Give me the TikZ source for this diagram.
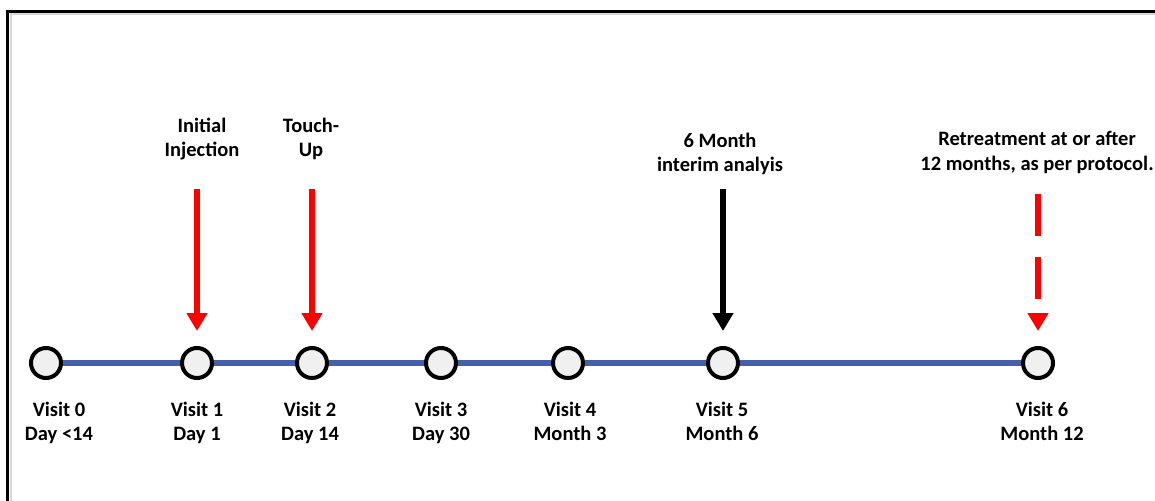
\documentclass[tikz,border=0pt]{standalone}
\usepackage{fontspec}
\setmainfont{Carlito}
\usetikzlibrary{arrows.meta}
\definecolor{tlblue}{RGB}{70,95,170}
\definecolor{dotfill}{RGB}{240,240,240}
\definecolor{shadowgray}{RGB}{215,215,215}
\begin{document}
\begin{tikzpicture}[x=1pt,y=-1pt,
  visit/.style={circle,draw=black,line width=4pt,fill=dotfill,minimum size=30pt,inner sep=0pt},
  lbl/.style={font=\fontsize{20.5}{24.5}\selectfont\bfseries,align=center,inner sep=0pt,anchor=base},
  tl/.style={draw=tlblue,line width=5.5pt},
  arr/.style={line width=5.5pt,-{Triangle[width=20pt,length=18pt]},shorten >=15pt},
  framebox/.style={draw=black,line width=2.5pt},
  frameshadow/.style={draw=shadowgray,line width=2pt}
]
\useasboundingbox (0,0) rectangle (1155,500);
\clip (0,0) rectangle (1155,500);
% frame
\draw[frameshadow] (10.5,520) -- (10.5,14.5) -- (1170,14.5);
\draw[framebox] (7.5,520) -- (7.5,11.5) -- (1170,11.5);
% visits
\node[visit] (v0) at (46,363) {};
\node[visit] (v1) at (197,363) {};
\node[visit] (v2) at (312,363) {};
\node[visit] (v3) at (441,363) {};
\node[visit] (v4) at (568,363) {};
\node[visit] (v5) at (723,363) {};
\node[visit] (v6) at (1038,363) {};
\draw[tl] (v0) -- (v1);
\draw[tl] (v1) -- (v2);
\draw[tl] (v2) -- (v3);
\draw[tl] (v3) -- (v4);
\draw[tl] (v4) -- (v5);
\draw[tl] (v5) -- (v6);
% bottom labels (anchor = baseline of last line)
\node[lbl] (b0) at (59,440.5) {Visit 0\\Day <14};
\node[lbl] (b1) at (197,440.5) {Visit 1\\Day 1};
\node[lbl] (b2) at (310,440.5) {Visit 2\\Day 14};
\node[lbl] (b3) at (441,440.5) {Visit 3\\Day 30};
\node[lbl] (b4) at (570,440.5) {Visit 4\\Month 3};
\node[lbl] (b5) at (722,440.5) {Visit 5\\Month 6};
\node[lbl] (b6) at (1042,440.5) {Visit 6\\Month 12};
% top labels
\node[lbl] (t1) at (202,156.5) {Initial\\Injection};
\node[lbl] (t2) at (311,156.5) {Touch-\\Up};
\node[lbl] (t5) at (720,171.5) {6 Month\\interim analyis};
\node[lbl] (t6) at (1037,170) {Retreatment at or after\\12 months, as per protocol.};
% arrows
\draw[arr,red,shorten <=29pt] (t1.south -| v1) -- (v1);
\draw[arr,red,shorten <=29pt] (t2.south -| v2) -- (v2);
\draw[arr,black,shorten <=14pt] (t5.south -| v5) -- (v5);
\draw[arr,red,shorten <=21pt,dash pattern=on 42pt off 21pt] (t6.south -| v6) -- (v6);
\end{tikzpicture}
\end{document}
